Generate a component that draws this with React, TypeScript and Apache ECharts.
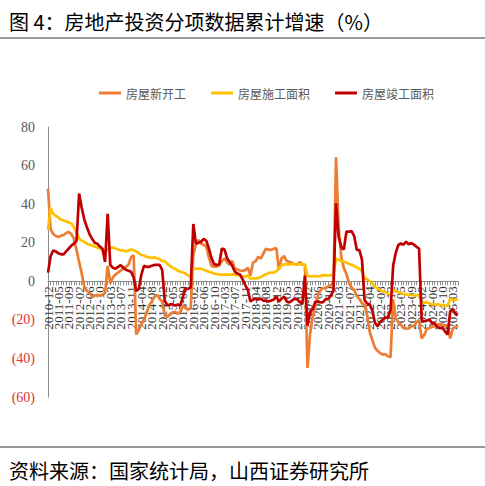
import React, { useEffect, useRef } from 'react';
import * as echarts from 'echarts';

// 月度累计同比（%），1月数据不单独公布，从2010-12至2025-05
const startYear = 2011;
const endYear = 2025;
const endMonth = 5;

const newStarts: number[] = [
  48,
  27, 24.5, 23.5, 23, 23.6, 24, 25, 25.5, 24.5, 22, 16.2,
  10, 4, -3, -5, -6, -8, -7.5, -7, -7.5, -7, -6,
  8, -1, 2, 3.5, 4.5, 5.5, 6.5, 7.5, 8.5, 12.5, 13.5,
  -27.6, -25.2, -22.3, -19.8, -16.4, -12.3, -10.5, -8, -7, -9, -10.7,
  -17.7, -18.4, -17.3, -16.1, -15.8, -16.8, -16, -12.5, -13.9, -14.7, -14,
  13.7, 19.2, 21.4, 19.5, 19, 18, 12.4, 8, 7.6, 7.6, 8.1,
  10.4, 11.9, 9.8, 8.6, 10.6, 6.6, 6.1, 5.6, 5.4, 5.8, 7,
  2.9, 9.7, 10.4, 12.7, 11.8, 14.4, 16.9, 16.4, 16.3, 16.8, 17.2,
  6, 11.9, 13.1, 10.5, 10.1, 9.5, 8.9, 8.6, 10, 8.6, 8.5,
  -44.9, -27.2, -18.4, -12.8, -7.6, -4.5, -3.6, -3.4, -2.6, -2, -1.2,
  64.3, 28.2, 12.8, 6.9, 3.8, -0.9, -3.2, -4.5, -7.7, -9.1, -11.4,
  -12.2, -17.5, -26.3, -30.6, -34.4, -36.1, -37.2, -38, -37.8, -38.9, -39.4,
  -9.4, -19.2, -21.2, -22.6, -24.3, -24.5, -24.4, -23.4, -23.2, -21.2, -20.4,
  -29.7, -27.8, -24.6, -24.2, -23.7, -23.2, -22.5, -22.2, -22.6, -23, -23,
  -29.6, -24.4, -23.8, -22.8,
];

const underConstruction: number[] = [
  26.6,
  38, 35, 34, 33, 32, 31.5, 31, 30.5, 30, 28, 25.3,
  22, 21, 20.5, 19.5, 19, 18.5, 18, 17.5, 17, 16, 15,
  16.5, 17.5, 17.5, 17, 16.5, 16, 16, 15.5, 16, 16.5, 16.1,
  15.5, 14.5, 13.5, 13.5, 12.5, 12.5, 12, 12.5, 12, 11.5, 10.4,
  10.5, 9, 8, 7, 6.5, 5.5, 5, 4.5, 4, 3, 2.5,
  6.5, 6.6, 6.5, 6.5, 6, 5.5, 5, 4.5, 4, 3.8, 3.5,
  3.5, 3.5, 3.5, 3.5, 3.6, 3.5, 3, 3, 2.5, 2.4, 3,
  1.3, 1.5, 1.5, 1.6, 2.2, 3, 3.6, 4.3, 4.5, 4.5, 5.2,
  6.8, 8.2, 8.8, 8.8, 8.8, 9, 8.8, 8.7, 9, 8.7, 8.7,
  2.9, 2.6, 2.5, 2.6, 2.6, 2.7, 3.2, 3.1, 3, 3.2, 3.7,
  11.6, 11.2, 10.5, 10.1, 9.7, 9, 8.6, 7.9, 7.1, 6.5, 5.2,
  1.5, 1, 0, -1, -2.8, -3.7, -4.5, -5.3, -5.7, -6.5, -7.2,
  -4.4, -5.2, -5.6, -6.2, -6.6, -6.8, -7.1, -7.1, -7.3, -7.2, -7.2,
  -11, -11.1, -10.8, -11.6, -12, -12.1, -12, -12.2, -12.4, -12.7, -12.7,
  -9.1, -9.5, -9.7, -9.2,
];

const completions: number[] = [
  4.5,
  13, 16, 15.5, 14.5, 14, 14, 15.5, 17, 18.5, 19.5, 21,
  45.5, 38, 32, 28, 24.5, 22, 20, 19.5, 18, 17, 10,
  35, 8.5, 7, 6.5, 7.5, 8.4, 7, 6, 5.5, 5, 2,
  -5, -4, 3.6, 8, 7.5, 7.5, 8, 8.5, 8.5, 8.5, 5.9,
  -10, -12.5, -12, -12, -12.5, -12, -12.5, -8, -3.6, -4, -3,
  29.7, 19.5, 20, 20.5, 22, 21, 17, 12, 9, 8.4, 9,
  17, 16.5, 12, 10, 8, 5, 4, 3.5, 1, -2, -4.4,
  -10.5, -9.5, -9, -9.5, -9, -10, -10, -10.5, -10, -9.5, -7.8,
  -10.5, -9, -8, -10.5, -11, -10, -9, -9.5, -10.5, -12, 3,
  -22.9, -15.8, -14.5, -10.6, -10.5, -11, -10.8, -9.2, -9.2, -7.3, -4.9,
  40.4, 22.9, 17.9, 16.4, 25.7, 25.7, 26, 23.4, 16.3, 16.2, 11.2,
  -9.8, -11.5, -11.9, -15.3, -21.5, -23.3, -21.1, -19.9, -18.7, -19, -15,
  8, 14.7, 18.8, 19.6, 19, 20.5, 19.2, 19.8, 19, 17.9, 17,
  -20.2, -20.7, -20.4, -19.8, -21.8, -21.8, -23.6, -24.4, -23.9, -26, -27.7,
  -15.6, -14.3, -16.9, -17.3,
];

// 类目：2010-12，之后每年2-12月
const categories: string[] = ['2010-12'];
for (let y = startYear; y <= endYear; y++) {
  for (let m = 2; m <= 12; m++) {
    if (y === endYear && m > endMonth) break;
    categories.push(`${y}-${m < 10 ? '0' + m : m}`);
  }
}

const seriesNames = ['房屋新开工', '房屋施工面积', '房屋竣工面积'];
const seriesColors = ['#ED7D31', '#FFC000', '#C00000'];
const yTicks = { min: -60, max: 80, interval: 20 };

const App: React.FC = () => {
  const chartRef = useRef<HTMLDivElement>(null);

  useEffect(() => {
    document.body.style.margin = '0';
    if (!chartRef.current) return;
    const chart = echarts.init(chartRef.current, undefined, { renderer: 'svg' });

    const cjk = '"Noto Sans CJK SC", sans-serif';
    const serif = '"Liberation Serif", "Times New Roman", serif';
    const data = [newStarts, underConstruction, completions];

    // 绘图区：上127，下397；把x轴平移到0值处
    const gridTop = 127;
    const gridHeight = 270;
    const zeroOffset = (gridHeight * (0 - yTicks.min)) / (yTicks.max - yTicks.min);

    // 每4个点一个标签；分到两条轴上交替显示，避免被自动隐藏
    const labelStyle = {
      rotate: 90,
      margin: 5,
      fontSize: 13,
      color: '#333',
      fontFamily: serif,
      hideOverlap: false,
      showMinLabel: true
    };

    const option: echarts.EChartsOption = {
      animation: false,
      title: [
        {
          text: '图 4：房地产投资分项数据累计增速（%）',
          left: 4,
          top: 6,
          textStyle: { fontFamily: cjk, fontSize: 20, fontWeight: 'normal', color: '#000' }
        },
        {
          text: '资料来源：国家统计局，山西证券研究所',
          left: 4,
          top: 455,
          textStyle: { fontFamily: cjk, fontSize: 20, fontWeight: 'normal', color: '#000' }
        }
      ],
      graphic: [
        { type: 'line', shape: { x1: 0, y1: 38, x2: 485, y2: 38 }, style: { stroke: '#333', lineWidth: 1 } },
        { type: 'line', shape: { x1: 0, y1: 447, x2: 485, y2: 447 }, style: { stroke: '#333', lineWidth: 1 } }
      ],
      legend: {
        left: 94,
        top: 82,
        icon: 'rect',
        itemWidth: 22,
        itemHeight: 3,
        itemGap: 25,
        data: seriesNames,
        textStyle: { fontFamily: cjk, fontSize: 12, color: '#595959' }
      },
      grid: { left: 48, right: 27, top: gridTop, height: gridHeight },
      xAxis: [
        {
          type: 'category',
          data: categories,
          boundaryGap: false,
          position: 'bottom',
          offset: -zeroOffset,
          axisLine: { onZero: false, lineStyle: { color: '#8c8c8c' } },
          axisTick: { show: true, interval: 0, length: 4, lineStyle: { color: '#8c8c8c' } },
          axisLabel: { ...labelStyle, interval: (i: number) => i % 8 === 0 }
        },
        {
          type: 'category',
          data: categories,
          boundaryGap: false,
          position: 'bottom',
          offset: -zeroOffset,
          axisLine: { show: false, onZero: false },
          axisTick: { show: false },
          axisLabel: { ...labelStyle, interval: (i: number) => i % 8 === 4 }
        }
      ],
      yAxis: {
        type: 'value',
        min: yTicks.min,
        max: yTicks.max,
        interval: yTicks.interval,
        axisLine: { show: true, lineStyle: { color: '#8c8c8c' } },
        axisTick: { show: false },
        splitLine: { show: false },
        axisLabel: {
          margin: 13,
          fontSize: 14,
          color: '#595959',
          fontFamily: serif,
          formatter: (v: number) => (v < 0 ? `{neg|(${-v})}` : `${v}`),
          rich: {
            neg: { color: '#E03030', fontSize: 14, fontFamily: serif }
          }
        }
      },
      series: seriesNames.map((name, i) => ({
        name,
        type: 'line',
        xAxisIndex: 0,
        data: data[i],
        symbol: 'none',
        color: seriesColors[i],
        lineStyle: { width: 2.7, color: seriesColors[i] }
      }))
    };

    // eslint-disable-next-line @typescript-eslint/no-explicit-any
    chart.setOption(option as any);

    return () => {
      chart.dispose();
    };
  }, []);

  return <div ref={chartRef} style={{ width: 485, height: 486 }} />;
};

export default App;
